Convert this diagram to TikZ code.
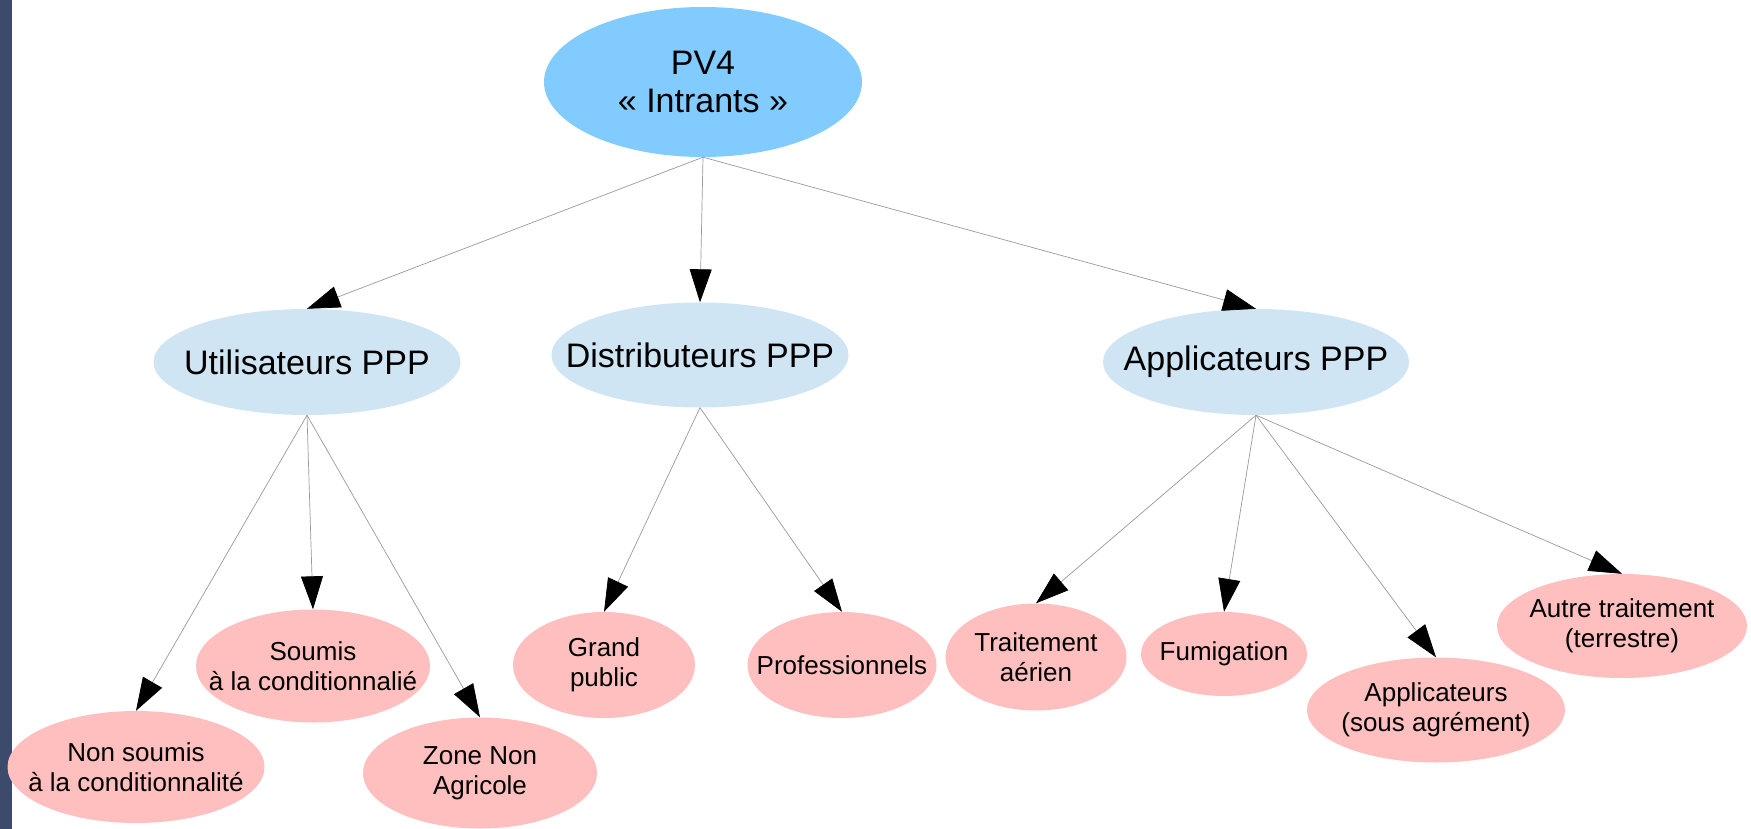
\documentclass[tikz,border=0pt]{standalone}
\usepackage{fontspec}
\setmainfont{Liberation Sans}
\usetikzlibrary{shapes.geometric,arrows.meta}
\definecolor{topblue}{HTML}{82CBFF}
\definecolor{midblue}{HTML}{CFE5F4}
\definecolor{leafpink}{HTML}{FFBFBF}
\definecolor{barblue}{HTML}{3C4A6C}
\definecolor{linegray}{HTML}{9A9A9A}
\tikzset{
  bubble/.style={ellipse, inner sep=-150pt, align=center},
  topnode/.style={bubble, fill=topblue, font=\fontsize{34}{38}\selectfont},
  midnode/.style={bubble, fill=midblue, font=\fontsize{34}{38}\selectfont},
  leafnode/.style={bubble, fill=leafpink, font=\fontsize{26}{30}\selectfont},
  link/.style={draw=linegray, line width=0.7pt,
    -{Triangle[length=33pt,width=22pt,fill=black,color=black]}}
}
\begin{document}
\begin{tikzpicture}[x=1pt,y=-1pt]
\useasboundingbox (0,0) rectangle (1751,829);
\fill[white] (0,0) rectangle (1751,829);
\fill[barblue] (0,0) rectangle (12,829);

\node[topnode, minimum width=318pt, minimum height=150pt] (top) at (703,82) {PV4\\« Intrants »};

\node[midnode, minimum width=307pt, minimum height=106pt] (util) at (307,362) {Utilisateurs PPP};
\node[midnode, minimum width=297pt, minimum height=105pt] (dist) at (700,355) {Distributeurs PPP};
\node[midnode, minimum width=306pt, minimum height=106pt] (appl) at (1256,362) {Applicateurs PPP};

\node[leafnode, minimum width=257pt, minimum height=112pt] (nons) at (136,767) {Non soumis\\à la conditionnalité};
\node[leafnode, minimum width=234pt, minimum height=113pt] (soum) at (313,666) {Soumis\\à la conditionnalié};
\node[leafnode, minimum width=234pt, minimum height=111pt] (zone) at (480,773) {Zone Non\\Agricole};
\node[leafnode, minimum width=182pt, minimum height=106pt] (gp) at (604,665) {Grand\\public};
\node[leafnode, minimum width=189pt, minimum height=106pt] (prof) at (842,665) {Professionnels};
\node[leafnode, minimum width=181pt, minimum height=107pt] (aer) at (1036,657) {Traitement\\aérien};
\node[leafnode, minimum width=166pt, minimum height=84pt] (fum) at (1224,654) {Fumigation};
\node[leafnode, minimum width=258pt, minimum height=105pt] (agr) at (1436,710) {Applicateurs\\(sous agrément)};
\node[leafnode, minimum width=250pt, minimum height=104pt] (autre) at (1622,626) {Autre traitement\\(terrestre)};

\draw[link] (top.south) -- (util.north);
\draw[link] (top.south) -- (dist.north);
\draw[link] (top.south) -- (appl.north);

\draw[link] (util.south) -- (nons.north);
\draw[link] (util.south) -- (soum.north);
\draw[link] (util.south) -- (zone.north);

\draw[link] (dist.south) -- (gp.north);
\draw[link] (dist.south) -- (prof.north);

\draw[link] (appl.south) -- (aer.north);
\draw[link] (appl.south) -- (fum.north);
\draw[link] (appl.south) -- (agr.north);
\draw[link] (appl.south) -- (autre.north);
\end{tikzpicture}
\end{document}
